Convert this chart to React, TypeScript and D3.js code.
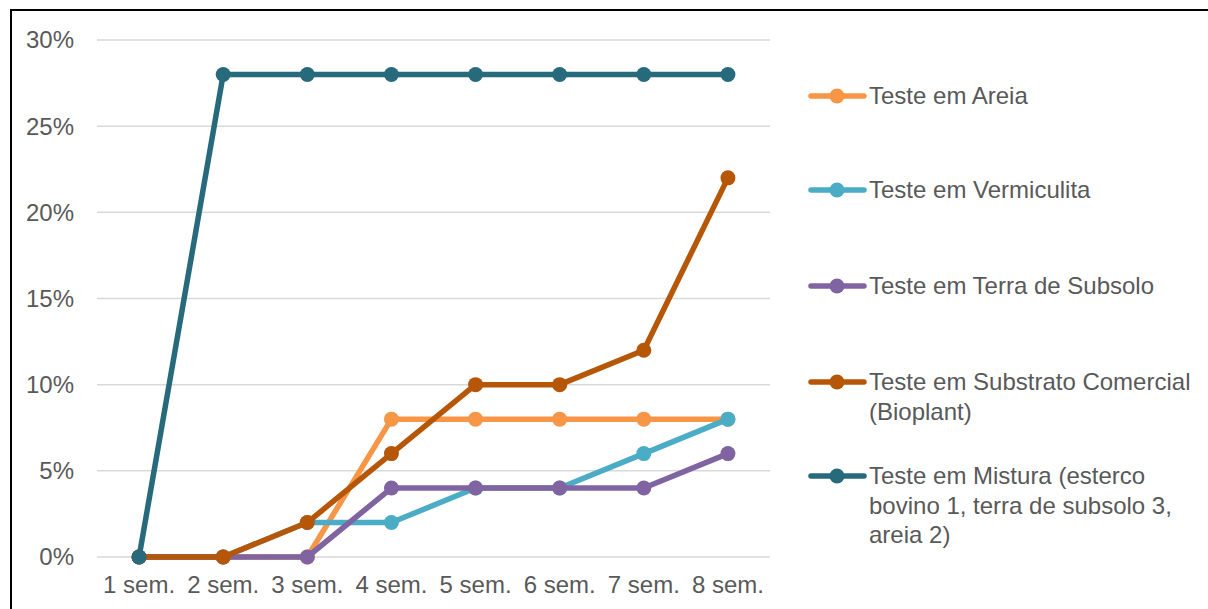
import * as d3 from 'd3';
import React, { useRef, useEffect } from 'react';

// data
const weeks = ['1 sem.', '2 sem.', '3 sem.', '4 sem.', '5 sem.', '6 sem.', '7 sem.', '8 sem.'];
const areia = [0, 0, 0, 8, 8, 8, 8, 8];
const vermiculita = [0, 0, 2, 2, 4, 4, 6, 8];
const terraSubsolo = [0, 0, 0, 4, 4, 4, 4, 6];
const substrato = [0, 0, 2, 6, 10, 10, 12, 22];
const mistura = [0, 28, 28, 28, 28, 28, 28, 28];
const yTicks = [0, 5, 10, 15, 20, 25, 30];

const seriesNames = [
  ['Teste em Areia'],
  ['Teste em Vermiculita'],
  ['Teste em Terra de Subsolo'],
  ['Teste em Substrato Comercial', '(Bioplant)'],
  ['Teste em Mistura (esterco', 'bovino 1, terra de subsolo 3,', 'areia 2)'],
];
const seriesValues = [areia, vermiculita, terraSubsolo, substrato, mistura];
const seriesColors = ['#F79646', '#4BACC6', '#8064A2', '#B65708', '#276A7C'];

function App() {
  const ref = useRef(null);

  useEffect(() => {
    const width = 1208;
    const height = 609;
    const svg = d3.select(ref.current);
    svg.selectAll('*').remove();
    svg.attr('width', width).attr('height', height);

    const font = '"Liberation Sans", Arial, sans-serif';
    const textColor = '#595959';
    const fontSize = '24px';

    svg.append('rect')
      .attr('x', 0).attr('y', 0).attr('width', width).attr('height', height)
      .attr('fill', '#fff');

    // outer chart border (runs off the right and bottom edges)
    svg.append('rect')
      .attr('x', 11).attr('y', 10).attr('width', width + 20).attr('height', height + 20)
      .attr('fill', 'none').attr('stroke', '#000').attr('stroke-width', 2);

    const x = d3.scaleBand()
      .domain(weeks)
      .range([97, 770]);

    const y = d3.scaleLinear()
      .domain([0, 30])
      .range([557, 40]);

    const cx = d => x(d) + x.bandwidth() / 2;

    // gridlines
    svg.append('g')
      .selectAll('line')
      .data(yTicks)
      .enter()
      .append('line')
      .attr('x1', 97).attr('x2', 770)
      .attr('y1', d => y(d)).attr('y2', d => y(d))
      .attr('stroke', '#D9D9D9')
      .attr('stroke-width', 1.5);

    // y labels
    svg.append('g')
      .selectAll('text')
      .data(yTicks)
      .enter()
      .append('text')
      .attr('x', 74)
      .attr('y', d => y(d))
      .attr('dy', '0.35em')
      .attr('text-anchor', 'end')
      .attr('font-family', font)
      .attr('font-size', fontSize)
      .attr('fill', textColor)
      .text(d => d + '%');

    // x labels
    svg.append('g')
      .selectAll('text')
      .data(weeks)
      .enter()
      .append('text')
      .attr('x', d => cx(d))
      .attr('y', 593)
      .attr('text-anchor', 'middle')
      .attr('font-family', font)
      .attr('font-size', fontSize)
      .attr('fill', textColor)
      .text(d => d);

    const line = d3.line()
      .x((d, i) => cx(weeks[i]))
      .y(d => y(d));

    seriesValues.forEach((vals, si) => {
      const g = svg.append('g');
      g.append('path')
        .attr('d', line(vals))
        .attr('fill', 'none')
        .attr('stroke', seriesColors[si])
        .attr('stroke-width', 5.5)
        .attr('stroke-linejoin', 'round');
      g.selectAll('circle')
        .data(vals)
        .enter()
        .append('circle')
        .attr('cx', (d, i) => cx(weeks[i]))
        .attr('cy', d => y(d))
        .attr('r', 7.5)
        .attr('fill', seriesColors[si]);
    });

    // legend
    const legendY = [96, 190, 286, 382, 476];
    seriesNames.forEach((lines, si) => {
      const g = svg.append('g').attr('transform', `translate(0,${legendY[si]})`);
      g.append('line')
        .attr('x1', 811).attr('x2', 864)
        .attr('y1', 0).attr('y2', 0)
        .attr('stroke', seriesColors[si])
        .attr('stroke-width', 5.5)
        .attr('stroke-linecap', 'round');
      g.append('circle')
        .attr('cx', 837).attr('cy', 0).attr('r', 7.5)
        .attr('fill', seriesColors[si]);
      g.selectAll('text')
        .data(lines)
        .enter()
        .append('text')
        .attr('x', 869)
        .attr('y', (d, i) => i * 29.5)
        .attr('dy', '0.35em')
        .attr('font-family', font)
        .attr('font-size', fontSize)
        .attr('fill', textColor)
        .text(d => d);
    });
  });

  return (
    <div className="chart">
      <svg ref={ref} style={{ position: 'absolute', left: 0, top: 0, display: 'block' }}></svg>
    </div>
  );
}

export default App;
